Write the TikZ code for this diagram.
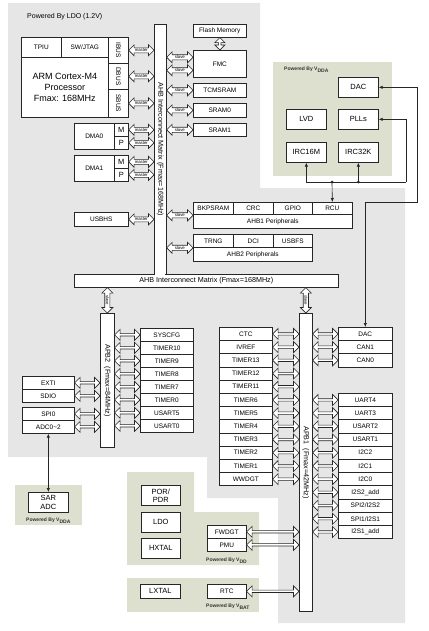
\documentclass[tikz,border=0pt]{standalone}
\usepackage{fontspec}
\setmainfont{Liberation Sans}
\usepackage{graphicx}
\usetikzlibrary{shapes.arrows, arrows.meta, calc}

\definecolor{ldogray}{RGB}{230,230,230}
\definecolor{supgreen}{RGB}{221,224,207}

% hollow bus arrow between two points
\newcommand{\busarrow}[4][]{%
  \path let \p1=#2, \p2=#3, \n1={veclen(\x2-\x1,\y2-\y1)} in
    node[busarr, minimum height=\n1, #1] at ($#2!0.5!#3$) {#4};}

\begin{document}
\begin{tikzpicture}[x=1pt, y=-1pt,
    sz/.style 2 args={minimum width=#1pt, minimum height=#2pt},
    blk/.style={draw=black!85, line width=0.65pt, fill=white, inner sep=0pt, anchor=north west, font=\fontsize{6.5}{7}\selectfont},
    bigblk/.style={blk, align=center, font=\fontsize{7.5}{8.5}\selectfont},
    busbar/.style={blk, font=\fontsize{7.2}{8}\selectfont},
    busarr/.style={double arrow, draw=black!85, line width=0.6pt, fill=white, minimum width=11pt, double arrow head extend=2.5pt, inner sep=0.4pt, font=\fontsize{4.3}{4.3}\selectfont},
    wire/.style={draw=black!85, line width=0.65pt},
    sig/.style={-{Latex[length=4pt,width=3.4pt]}},
    sigboth/.style={{Latex[length=4pt,width=3.4pt]}-{Latex[length=4pt,width=3.4pt]}},
    powered/.style={anchor=west, inner sep=0pt, text=black!80, font=\fontsize{5}{5}\bfseries\selectfont}]
\useasboundingbox (0,0) rectangle (428,631);

% Supply domains
\fill[ldogray] (8,3) -- (260,3) -- (260,188) -- (405,188) -- (405,623) -- (278,623) -- (278,498) -- (207,498) -- (207,457) -- (8,457) -- cycle;
\fill[supgreen] (273,62) rectangle (392,176);
\fill[supgreen] (15,485) rectangle (82,525);
\fill[supgreen] (127,472) -- (194,472) -- (194,512) -- (259,512) -- (259,565) -- (127,565) -- cycle;
\fill[supgreen] (127,578) rectangle (259,612);

\node[anchor=west, inner sep=0pt, font=\fontsize{7}{8}\selectfont] (ldonote) at (27,17) {Powered By LDO (1.2V)};
\node[powered] (vddanote) at (284,70) {Powered By V\textsubscript{DDA}};
\node[powered] (adcnote) at (26,521) {Powered By V\textsubscript{DDA}};
\node[powered] (vddnote) at (206,561) {Powered By V\textsubscript{DD}};
\node[powered] (vbatnote) at (206,607) {Powered By V\textsubscript{BAT}};

% Cortex-M4 core
\node[blk, sz={40}{20}] (tpiu) at (21,37) {TPIU};
\node[blk, sz={47}{20}] (swj) at (61,37) {SW/JTAG};
\node[blk, sz={87}{60}, align=center, font=\fontsize{9}{11}\selectfont] (cpu) at (21,57) {ARM Cortex-M4\\Processor\\Fmax: 168MHz};
\node[blk, sz={20}{26}] (ibus) at (108,37) {\rotatebox{-90}{IBUS}};
\node[blk, sz={20}{26}] (dbus) at (108,63) {\rotatebox{-90}{DBUS}};
\node[blk, sz={20}{28}] (sbus) at (108,89) {\rotatebox{-90}{SBUS}};

% DMA and USB masters
\node[blk, sz={40}{26}] (dmazero) at (74,123) {DMA0};
\node[blk, sz={14}{13}, font=\fontsize{7.5}{8}\selectfont] (mzero) at (114,123) {M};
\node[blk, sz={14}{13}, font=\fontsize{7.5}{8}\selectfont] (pzero) at (114,136) {P};
\node[blk, sz={40}{26}] (dmaone) at (74,155) {DMA1};
\node[blk, sz={14}{13}, font=\fontsize{7.5}{8}\selectfont] (mone) at (114,155) {M};
\node[blk, sz={14}{13}, font=\fontsize{7.5}{8}\selectfont] (pone) at (114,168) {P};
\node[blk, sz={54}{14}] (usbhs) at (74,212) {USBHS};

% AHB matrix
\node[busbar, sz={12}{250}] (ahbv) at (154,24) {\rotatebox{-90}{AHB Interconnect Matrix (Fmax=168MHz)}};
\node[busbar, sz={264}{13}] (ahbh) at (74,274) {AHB Interconnect Matrix (Fmax=168MHz)};
\fill[white] (154.6,272) rectangle (165.4,276);

\foreach \nm in {ibus, dbus, sbus, mzero, pzero, mone, pone, usbhs}
  \busarrow{(\nm.east)}{(\nm.east -| ahbv.west)}{master};

% AHB slaves
\node[blk, sz={53}{13}] (flash) at (193,24) {Flash Memory};
\node[blk, sz={53}{27}] (fmc) at (193,50) {FMC};
\node[blk, sz={53}{14}] (tcmsram) at (193,83) {TCMSRAM};
\node[blk, sz={53}{14}] (sramzero) at (193,103) {SRAM0};
\node[blk, sz={53}{13}] (sramone) at (193,123) {SRAM1};
\busarrow[rotate=90, minimum width=10pt, double arrow head extend=2.2pt]{(flash.south)}{(fmc.north)}{}

\node[blk, sz={40}{12}] (bkpsram) at (193,202) {BKPSRAM};
\node[blk, sz={40}{12}] (crc) at (233,202) {CRC};
\node[blk, sz={39}{12}] (gpio) at (273,202) {GPIO};
\node[blk, sz={40}{12}] (rcu) at (312,202) {RCU};
\node[blk, sz={159}{14}] (ahbone) at (193,214) {AHB1 Peripherals};
\node[blk, sz={40}{13}] (trng) at (193,234) {TRNG};
\node[blk, sz={40}{13}] (dci) at (233,234) {DCI};
\node[blk, sz={39}{13}] (usbfs) at (273,234) {USBFS};
\node[blk, sz={119}{14}] (ahbtwo) at (193,247) {AHB2 Peripherals};

\coordinate (fmcup) at ($(fmc.west)+(0,-6.5)$);
\coordinate (fmcdn) at ($(fmc.west)+(0,6.5)$);
\coordinate (ahbonein) at ($(bkpsram.north west)!0.5!(ahbone.south west)$);
\coordinate (ahbtwoin) at ($(trng.north west)!0.5!(ahbtwo.south west)$);
\foreach \nm in {fmcup, fmcdn, tcmsram.west, sramzero.west, sramone.west, ahbonein, ahbtwoin}
  \busarrow{(ahbv.east |- \nm)}{(\nm)}{slave};

% Analog domain
\node[bigblk, sz={40}{20}] (dac) at (338,77) {DAC};
\node[bigblk, sz={40}{20}] (lvd) at (286,109) {LVD};
\node[bigblk, sz={40}{20}] (plls) at (338,109) {PLLs};
\node[bigblk, sz={40}{20}] (irc16m) at (286,142) {IRC16M};
\node[bigblk, sz={40}{20}] (irc32k) at (338,142) {IRC32K};

\coordinate (clk) at (332,182);
\coordinate (pllturn) at (406,182);
\draw[wire] (irc16m.south |- clk) -- (pllturn);
\draw[wire, sig] (pllturn) |- (plls.east);
\draw[wire, sig] (irc16m.south |- clk) -- (irc16m.south);
\draw[wire, sig] (irc32k.south |- clk) -- (irc32k.south);
\draw[wire, sig] (clk) -- (rcu.north);
\fill[black!85] (clk) circle (1.5) (irc32k.south |- clk) circle (1.5);

% APB2
\node[busbar, sz={14}{134}] (apbtwo) at (100,313) {\rotatebox{-90}{APB2\ \ (Fmax=84MHz)}};
\busarrow[rotate=-90]{(ahbh.south -| apbtwo.north)}{(apbtwo.north)}{slave}

\foreach \nm/\txt [count=\i from 0] in {syscfg/SYSCFG, timerten/TIMER10, timernine/TIMER9, timereight/TIMER8, timerseven/TIMER7, timerzero/TIMER0, usartfive/USART5, usartzero/USART0} {
  \node[blk, sz={53}{13}] (\nm) at (140,{328+13*\i}) {\txt};
  \busarrow{(apbtwo.east |- \nm.west)}{(\nm.west)}{}
}

\node[blk, sz={52}{13}] (exti) at (22,376) {EXTI};
\node[blk, sz={52}{13}] (sdio) at (22,389) {SDIO};
\node[blk, sz={52}{13}] (spizero) at (22,407) {SPI0};
\node[blk, sz={52}{13}] (adc) at (22,420) {ADC0\textasciitilde2};
\foreach \nm in {exti, sdio, spizero, adc}
  \busarrow{(\nm.east)}{(\nm.east -| apbtwo.west)}{};

\node[bigblk, sz={40}{20}] (sar) at (28,492) {SAR\\ADC};
\draw[wire, sigboth] (adc.south) -- (sar.north);

% APB1
\node[busbar, sz={13}{298}] (apbone) at (299,313) {\rotatebox{-90}{APB1\ \ (Fmax=42MHz)}};
\busarrow[rotate=-90]{(ahbh.south -| apbone.north)}{(apbone.north)}{slave}

\foreach \nm/\txt [count=\i from 0] in {ctc/CTC, ivref/IVREF, timerthirteen/TIMER13, timertwelve/TIMER12, timereleven/TIMER11, timersix/TIMER6, timerfive/TIMER5, timerfour/TIMER4, timerthree/TIMER3, timertwo/TIMER2, timerone/TIMER1, wwdgt/WWDGT} {
  \node[blk, sz={53}{13.2}] (\nm) at (219,{327+13.2*\i}) {\txt};
  \busarrow{(\nm.east)}{(\nm.east -| apbone.west)}{}
}

\foreach \nm/\txt [count=\i from 0] in {apbdac/DAC, canone/CAN1, canzero/CAN0} {
  \node[blk, sz={54}{13.2}] (\nm) at (338,{327+13.2*\i}) {\txt};
  \busarrow{(apbone.east |- \nm.west)}{(\nm.west)}{}
}

\foreach \nm/\txt [count=\i from 0] in {uartfour/UART4, uartthree/UART3, usarttwo/USART2, usartone/USART1, ictwo/I2C2, icone/I2C1, iczero/I2C0, istwoadd/I2S2\_add, spitwo/{SPI2/I2S2}, spione/{SPI1/I2S1}, isoneadd/I2S1\_add} {
  \node[blk, sz={54}{13.2}] (\nm) at (338,{393+13.2*\i}) {\txt};
  \busarrow{(apbone.east |- \nm.west)}{(\nm.west)}{}
}

\coordinate (dacturn) at (417,202);
\draw[wire, sigboth] (apbdac.north) |- (dacturn) |- (dac.east);

% Backup and VDD domain
\node[bigblk, sz={39}{20}, font=\fontsize{7.5}{8}\selectfont] (por) at (141,485) {POR/\\PDR};
\node[bigblk, sz={39}{20}] (ldo) at (141,512) {LDO};
\node[bigblk, sz={39}{20}] (hxtal) at (141,538) {HXTAL};
\node[bigblk, sz={40}{14}] (lxtal) at (140,584) {LXTAL};
\node[blk, sz={39}{13}] (fwdgt) at (207,525) {FWDGT};
\node[blk, sz={39}{13}] (pmu) at (207,538) {PMU};
\node[blk, sz={39}{14}] (rtc) at (207,584) {RTC};
\foreach \nm in {fwdgt, pmu, rtc}
  \busarrow{(\nm.east)}{(\nm.east -| apbone.west)}{};
\end{tikzpicture}
\end{document}
